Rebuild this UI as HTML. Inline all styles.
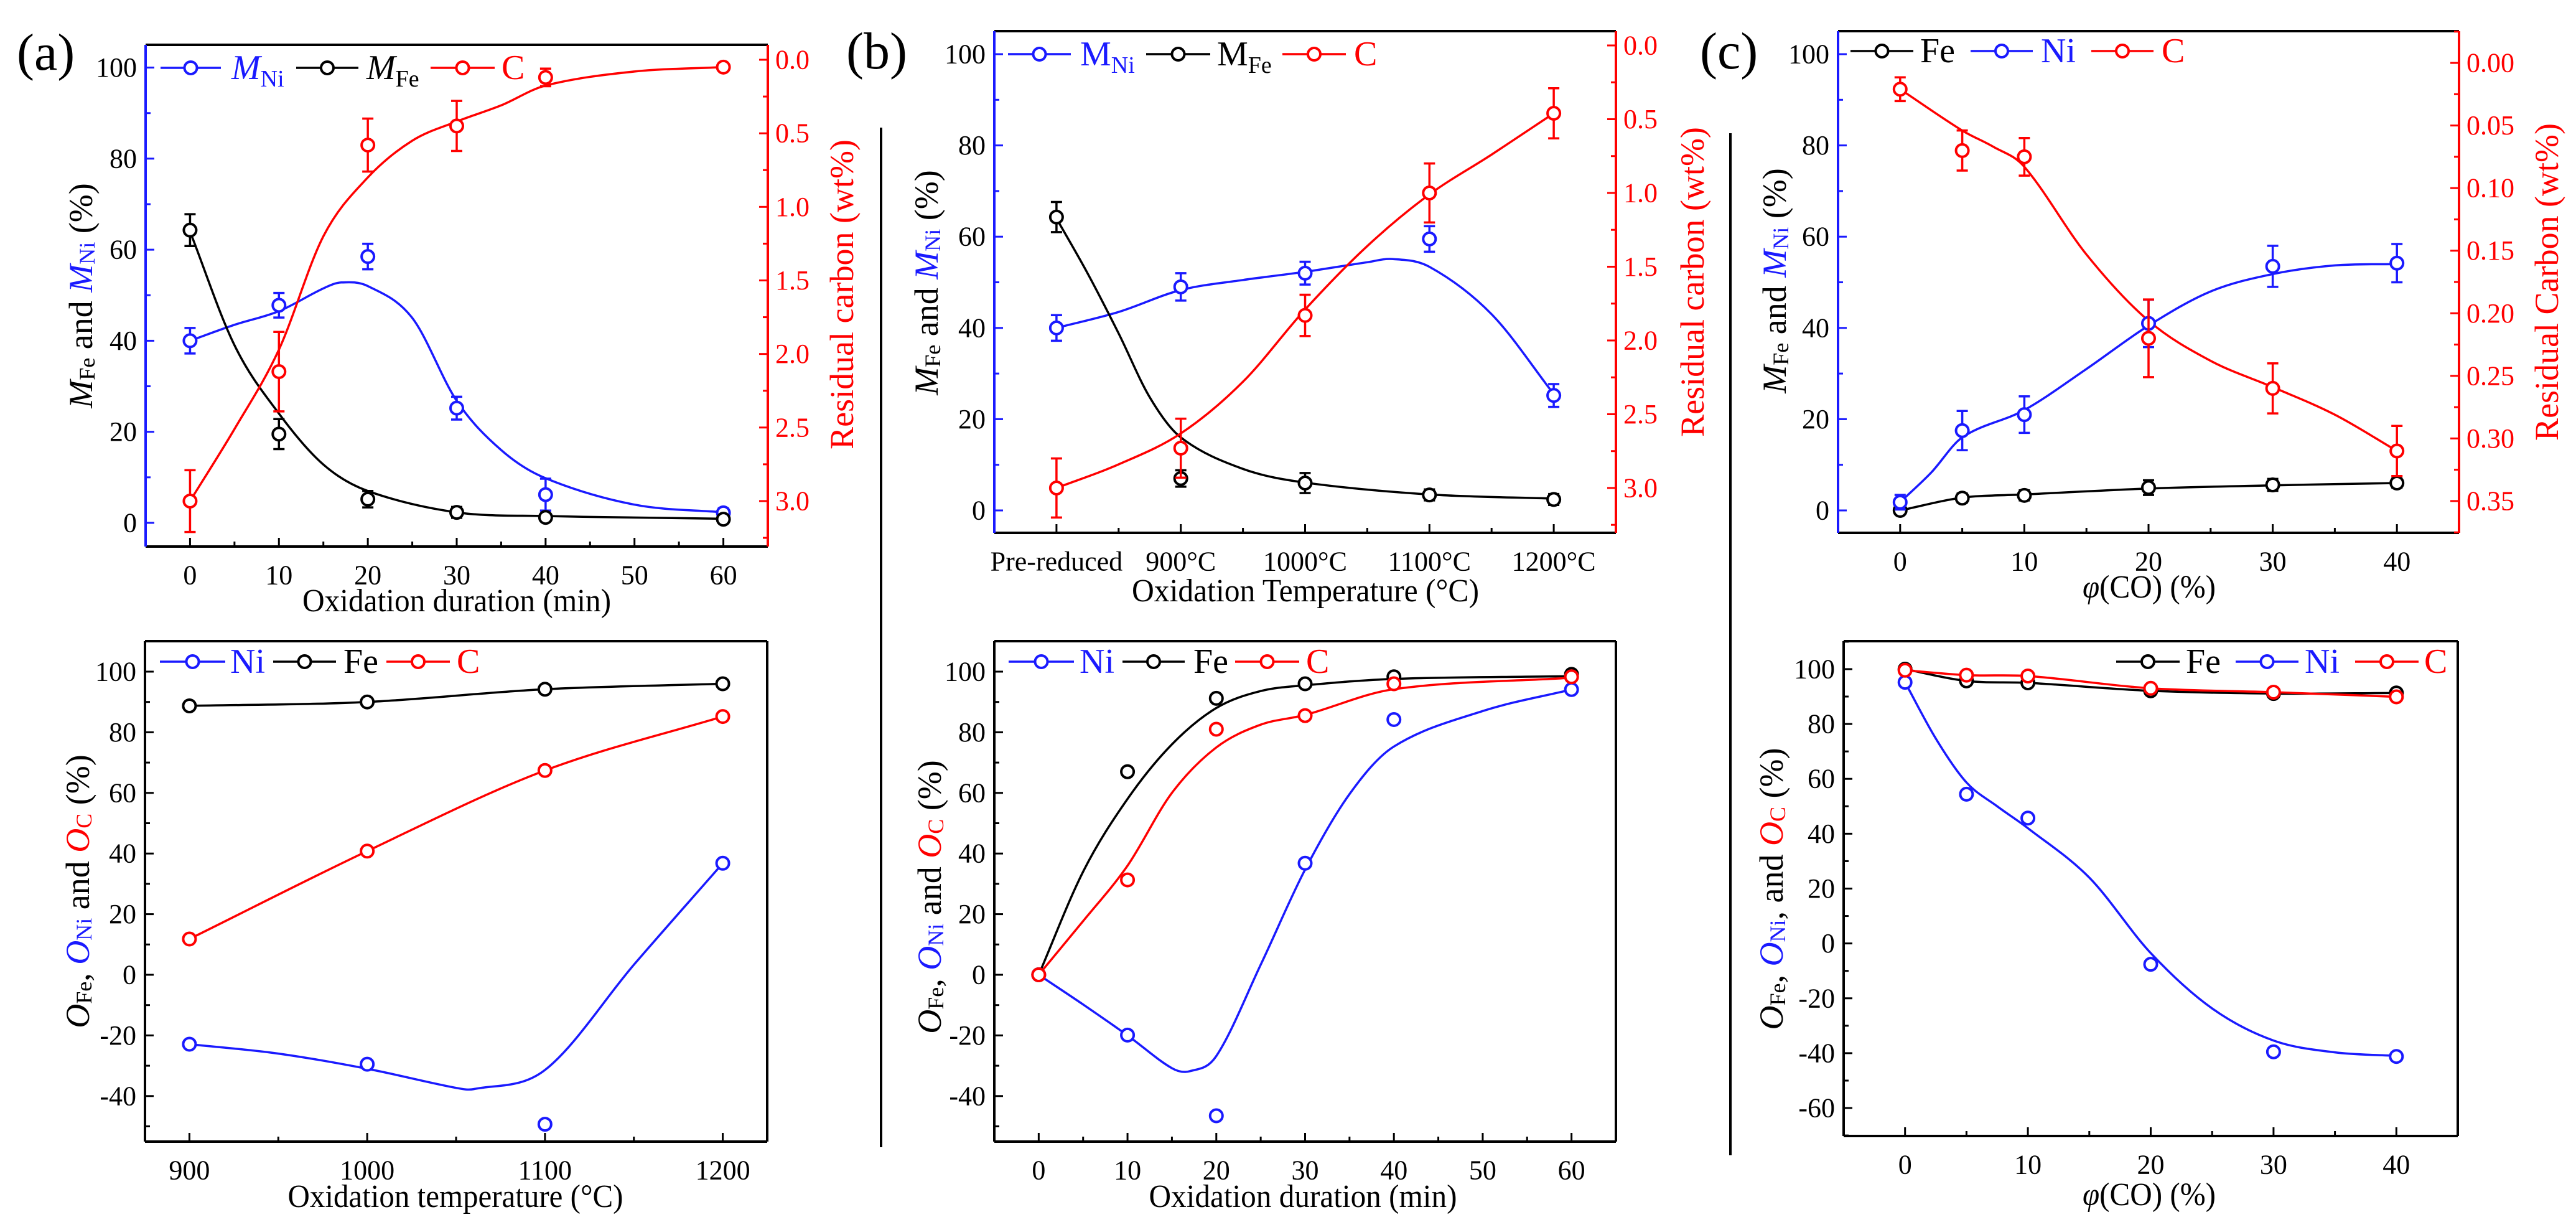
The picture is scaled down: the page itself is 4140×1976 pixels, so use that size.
<!DOCTYPE html>
<html><head><meta charset="utf-8">
<style>
html,body{margin:0;padding:0;background:#fff;}
svg{display:block;font-family:"Liberation Serif","Times New Roman",serif;}
text,tspan{font-family:"Liberation Serif","Times New Roman",serif;}
</style></head>
<body>
<svg id="fig" width="4140" height="1976" viewBox="0 0 4140 1976" xmlns="http://www.w3.org/2000/svg" font-family="Liberation Serif, serif">
<rect width="4140" height="1976" fill="#fff"/>
<text x="27" y="112" font-size="84">(a)</text>
<text x="1360" y="110" font-size="84">(b)</text>
<text x="2732" y="110" font-size="84">(c)</text>
<line x1="1416" y1="205" x2="1416" y2="1843" stroke="#000" stroke-width="4"/>
<line x1="2781" y1="214" x2="2781" y2="1856" stroke="#000" stroke-width="4"/>

<text x="734" y="982" font-size="52" text-anchor="middle" textLength="496" lengthAdjust="spacingAndGlyphs">Oxidation duration (min)</text>
<text x="2098" y="966" font-size="52" text-anchor="middle" textLength="558" lengthAdjust="spacingAndGlyphs">Oxidation Temperature (°C)</text>
<text x="3454" y="960" font-size="52" text-anchor="middle" textLength="214" lengthAdjust="spacingAndGlyphs"><tspan font-style="italic">φ</tspan>(CO) (%)</text>
<text x="732" y="1939" font-size="52" text-anchor="middle" textLength="539" lengthAdjust="spacingAndGlyphs">Oxidation temperature (°C)</text>
<text x="2094" y="1939" font-size="52" text-anchor="middle" textLength="495" lengthAdjust="spacingAndGlyphs">Oxidation duration (min)</text>
<text x="3454" y="1936" font-size="52" text-anchor="middle" textLength="214" lengthAdjust="spacingAndGlyphs"><tspan font-style="italic">φ</tspan>(CO) (%)</text>

<text transform="translate(130,475) rotate(-90)" font-size="54" text-anchor="middle" dominant-baseline="central"><tspan font-style="italic">M</tspan><tspan font-size="36" dy="10">Fe</tspan><tspan dy="-10"> and </tspan><tspan fill="#1a1aff" font-style="italic">M</tspan><tspan fill="#1a1aff" font-size="36" dy="10">Ni</tspan><tspan dy="-10"> (%)</tspan></text>
<text transform="translate(1353,473) rotate(-90)" font-size="54" fill="#ff0000" text-anchor="middle" dominant-baseline="central">Residual carbon (wt%)</text>
<text transform="translate(1489,454) rotate(-90)" font-size="54" text-anchor="middle" dominant-baseline="central"><tspan font-style="italic">M</tspan><tspan font-size="36" dy="10">Fe</tspan><tspan dy="-10"> and </tspan><tspan fill="#1a1aff" font-style="italic">M</tspan><tspan fill="#1a1aff" font-size="36" dy="10">Ni</tspan><tspan dy="-10"> (%)</tspan></text>
<text transform="translate(2720,453) rotate(-90)" font-size="54" fill="#ff0000" text-anchor="middle" dominant-baseline="central">Residual carbon (wt%)</text>
<text transform="translate(2852,451) rotate(-90)" font-size="54" text-anchor="middle" dominant-baseline="central"><tspan font-style="italic">M</tspan><tspan font-size="36" dy="10">Fe</tspan><tspan dy="-10"> and </tspan><tspan fill="#1a1aff" font-style="italic">M</tspan><tspan fill="#1a1aff" font-size="36" dy="10">Ni</tspan><tspan dy="-10"> (%)</tspan></text>
<text transform="translate(4093,453) rotate(-90)" font-size="54" fill="#ff0000" text-anchor="middle" dominant-baseline="central">Residual Carbon (wt%)</text>
<text transform="translate(125,1432) rotate(-90)" font-size="54" text-anchor="middle" dominant-baseline="central"><tspan font-style="italic">O</tspan><tspan font-size="36" dy="10">Fe</tspan><tspan dy="-10">, </tspan><tspan fill="#1a1aff" font-style="italic">O</tspan><tspan fill="#1a1aff" font-size="36" dy="10">Ni</tspan><tspan dy="-10"> and </tspan><tspan fill="#ff0000" font-style="italic">O</tspan><tspan fill="#ff0000" font-size="36" dy="10">C</tspan><tspan dy="-10"> (%)</tspan></text>
<text transform="translate(1494,1441) rotate(-90)" font-size="54" text-anchor="middle" dominant-baseline="central"><tspan font-style="italic">O</tspan><tspan font-size="36" dy="10">Fe</tspan><tspan dy="-10">, </tspan><tspan fill="#1a1aff" font-style="italic">O</tspan><tspan fill="#1a1aff" font-size="36" dy="10">Ni</tspan><tspan dy="-10"> and </tspan><tspan fill="#ff0000" font-style="italic">O</tspan><tspan fill="#ff0000" font-size="36" dy="10">C</tspan><tspan dy="-10"> (%)</tspan></text>
<text transform="translate(2847,1428) rotate(-90)" font-size="54" text-anchor="middle" dominant-baseline="central"><tspan font-style="italic">O</tspan><tspan font-size="36" dy="10">Fe</tspan><tspan dy="-10">, </tspan><tspan fill="#1a1aff" font-style="italic">O</tspan><tspan fill="#1a1aff" font-size="36" dy="10">Ni</tspan><tspan dy="-10">, and </tspan><tspan fill="#ff0000" font-style="italic">O</tspan><tspan fill="#ff0000" font-size="36" dy="10">C</tspan><tspan dy="-10"> (%)</tspan></text>
<g id="plots"></g>
</svg>
<script>
// Panel (a)
const aX = [0,10,20,30,40,60];
const aNi = [40,47.8,58.5,25.2,6.2,2.2];
const aNiErr = [2.8,2.7,2.8,2.5,3.5,1];
const aFe = [64.3,19.5,5.2,2.3,1.2,0.8];
const aFeErr = [3.5,3.3,1.8,1.2,0.6,0.5];
const aC = [3.0,2.12,0.58,0.45,0.12,0.05];
const aCErr = [0.21,0.27,0.18,0.17,0.06,0.02];
const aNiFitX = [0,5,10,15,17,20,25,30,35,40,50,60];
const aNiFit = [40,43.5,46.5,51.5,52.8,52,45,26.8,16,9.8,4,2.3];
const aFeFitX = [0,5,10,15,20,30,40,60];
const aFeFit = [64,39,24,12.8,7,2.3,1.5,0.9];
const aCFitX = [0,5,10,15,20,25,30,35,40,50,60];
const aCFit = [3.0,2.51,1.97,1.2,0.8,0.55,0.42,0.31,0.175,0.08,0.05];
// Panel (b)
const bCats = ["Pre-reduced","900°C","1000°C","1100°C","1200°C"];
const bX = [0,1,2,3,4];
const bNi = [40,49,52,59.5,25.2];
const bNiErr = [2.8,3,2.5,2.8,2.5];
const bFe = [64.3,7,6,3.4,2.4];
const bFeErr = [3.3,1.8,2.2,1.2,1.2];
const bC = [3.0,2.73,1.83,1.0,0.46];
const bCErr = [0.2,0.2,0.14,0.2,0.17];
const bNiFitX = [0,0.5,1,1.5,2,2.5,2.7,3,3.5,4];
const bNiFit = [40,43.5,48.3,50.5,52.3,54.4,55.1,53.4,43,25.5];
const bFeFitX = [0,0.25,0.5,0.75,1,1.5,2,3,4];
const bFeFit = [64,52,38.8,24.8,16,9.1,6.1,3.5,2.6];
const bCFitX = [0,0.5,1,1.5,2,2.5,3,3.5,4];
const bCFit = [3.0,2.84,2.63,2.28,1.79,1.36,1.01,0.74,0.46];
// Panel (c)
const cX = [0,5,10,20,30,40];
const cFe = [0,2.7,3.3,5,5.6,6];
const cFeErr = [0.8,1,1.1,1.6,1.3,1];
const cNi = [1.8,17.5,21,41,53.5,54.2];
const cNiErr = [1.6,4.3,4,5.2,4.5,4.2];
const cC = [0.021,0.070,0.075,0.22,0.26,0.31];
const cCErr = [0.0095,0.016,0.015,0.031,0.02,0.02];
const cNiFitX = [0,2.5,5,10,15,20,25,30,35,40];
const cNiFit = [1.8,8.3,16,22,31,40.5,48,51.8,53.7,54];
const cFeFitX = [0,5,10,20,30,40];
const cFeFit = [0,2.8,3.5,4.8,5.5,6];
const cCFitX = [0,5,7.5,10,15,20,25,30,35,40];
const cCFit = [0.021,0.054,0.067,0.083,0.153,0.206,0.238,0.259,0.281,0.31];
// Panel (d)
const dX = [900,1000,1100,1200];
const dFe = [88.7,90,94.2,96];
const dC = [11.8,40.8,67.4,85.2];
const dNi = [-22.9,-29.5,-49.3,36.8];
const dNiFitX = [900,950,1000,1050,1060,1100,1150,1200];
const dNiFit = [-22.9,-26,-31,-37.3,-37.7,-31.4,3.3,36.8];
// Panel (e)
const eX = [0,10,20,30,40,60];
const eFe = [0,67,91.2,96,98.3,99.1];
const eC = [0,31.3,81,85.5,96,98.3];
const eNi = [0,-19.9,-46.5,36.8,84.2,94.1];
const eFeFitX = [0,5,10,15,20,25,30,40,60];
const eFeFit = [0,34,58,76,88,93.6,95.5,97.6,98.5];
const eCFitX = [0,5,10,15,20,25,30,40,60];
const eCFit = [0,17.7,36,60,75,82.5,85.7,94.2,98];
const eNiFitX = [0,5,10,15,17,20,25,30,35,40,50,60];
const eNiFit = [0,-9.8,-20,-30.8,-31.8,-26.8,3.3,34.7,59.6,75.3,87,94.1];
// Panel (f)
const fX = [0,5,10,20,30,40];
const fFe = [100,95.7,95,92.1,91.1,91.3];
const fC = [99.6,97.8,97.5,93,91.6,89.9];
const fNi = [95.2,54.4,45.7,-7.6,-39.5,-41.2];
const fNiFitX = [0,2.5,5,7.5,10,15,20,25,30,35,40];
const fNiFit = [95.2,74.7,58.7,50,42,24,-3.5,-23.7,-35.4,-39.7,-41];

const yTicks = [0,20,40,60,80,100];
const yTicksO = [-40,-20,0,20,40,60,80,100];
const yTicksF = [-60,-40,-20,0,20,40,60,80,100];
const y2TicksAB = [0,0.5,1,1.5,2,2.5,3];
const y2TicksC = [0,0.05,0.1,0.15,0.2,0.25,0.3,0.35];
const xTicksTime = [0,10,20,30,40,50,60];
const xTicksCO = [0,10,20,30,40];
const xTicksT = [900,1000,1100,1200];

const NS = "http://www.w3.org/2000/svg";
const root = document.getElementById('plots');
const BLUE = "#1a1aff", RED = "#ff0000", BLACK = "#000";
const FONT = '"Liberation Serif", serif';
function mk(tag, parent){ const e = document.createElementNS(NS, tag); parent.appendChild(e); return e; }
function lin(d0,d1,r0,r1){ return v => r0 + (v-d0)/(d1-d0)*(r1-r0); }
// cubic Hermite in x (handles uneven spacing)
function smooth(pts){
  const n = pts.length;
  const m = pts.map((p,i)=>{
    if (n<2) return 0;
    const a = pts[Math.max(0,i-1)], b = pts[Math.min(n-1,i+1)];
    return (b[1]-a[1])/(b[0]-a[0]);
  });
  let d = "M" + pts[0][0].toFixed(1) + "," + pts[0][1].toFixed(1);
  for (let i=0;i<n-1;i++){
    const p1 = pts[i], p2 = pts[i+1], dx = (p2[0]-p1[0])/3;
    const c1 = [p1[0]+dx, p1[1]+m[i]*dx];
    const c2 = [p2[0]-dx, p2[1]-m[i+1]*dx];
    d += "C"+c1[0].toFixed(1)+","+c1[1].toFixed(1)+" "+c2[0].toFixed(1)+","+c2[1].toFixed(1)+" "+p2[0].toFixed(1)+","+p2[1].toFixed(1);
  }
  return d;
}
function panel(id, g){
  const grp = mk('g', root);
  
  
  const sx = lin(g.x0,g.x1,g.L,g.R), sy = lin(g.y0,g.y1,g.B,g.T);
  const sy2 = g.y2 ? lin(g.y2[0],g.y2[1],g.T,g.B) : null;
  const top = mk('line', grp);
  
  
  top.setAttribute('x1',g.L); top.setAttribute('x2',g.R); top.setAttribute('y1',g.T); top.setAttribute('y2',g.T);
  top.setAttribute('stroke',BLACK); top.setAttribute('stroke-width',4);
  const bot = mk('line', grp);
  
  
  bot.setAttribute('x1',g.L); bot.setAttribute('x2',g.R); bot.setAttribute('y1',g.B); bot.setAttribute('y2',g.B);
  bot.setAttribute('stroke',BLACK); bot.setAttribute('stroke-width',4);
  const lft = mk('line', grp);
  
  
  lft.setAttribute('x1',g.L); lft.setAttribute('x2',g.L); lft.setAttribute('y1',g.T); lft.setAttribute('y2',g.B);
  lft.setAttribute('stroke',g.leftColor); lft.setAttribute('stroke-width',4);
  const rgt = mk('line', grp);
  
  
  rgt.setAttribute('x1',g.R); rgt.setAttribute('x2',g.R); rgt.setAttribute('y1',g.T); rgt.setAttribute('y2',g.B);
  rgt.setAttribute('stroke',g.rightColor); rgt.setAttribute('stroke-width',4);
  function tick(x1,y1,x2,y2,c){
    const t = mk('line', grp);
    
    
    t.setAttribute('x1',x1); t.setAttribute('y1',y1); t.setAttribute('x2',x2); t.setAttribute('y2',y2);
    t.setAttribute('stroke',c); t.setAttribute('stroke-width',3);
  }
  function label(x,y,s,anchor,c,name){
    const t = mk('text', grp);
    
    
    t.setAttribute('x',x); t.setAttribute('y',y); t.setAttribute('font-size',44);
    t.setAttribute('font-family',FONT);
    t.setAttribute('text-anchor',anchor); t.setAttribute('fill',c);
    t.setAttribute('dominant-baseline','central');
    t.textContent = s;
  }
  g.xTicks.forEach((v,i) => {
    const x = sx(v);
    tick(x,g.B,x,g.B-14,BLACK);
    label(x,g.B+46,g.xLabels ? g.xLabels[i] : String(v),'middle',BLACK,'x-tick-label');
    if (i < g.xTicks.length-1){ const xm = sx((v+g.xTicks[i+1])/2); tick(xm,g.B,xm,g.B-8,BLACK); }
  });
  g.yTicks.forEach((v,i) => {
    const y = sy(v);
    tick(g.L,y,g.L+14,y,g.leftColor);
    label(g.L-14,y,String(v),'end',BLACK,'y-tick-label');
    const ym = sy(v+ (g.yTicks[1]-g.yTicks[0])/2);
    if (ym > g.T) tick(g.L,ym,g.L+8,ym,g.leftColor);
  });
  const ymLow = sy(g.yTicks[0]-(g.yTicks[1]-g.yTicks[0])/2);
  if (ymLow < g.B) tick(g.L,ymLow,g.L+8,ymLow,g.leftColor);
  if (g.y2){
    g.y2Ticks.forEach((v,i) => {
      const y = sy2(v);
      tick(g.R,y,g.R-14,y,RED);
      label(g.R+12,y,v.toFixed(g.y2Dec),'start',RED,'y2-tick-label');
      const step = g.y2Ticks[1]-g.y2Ticks[0];
      const ym = sy2(v+step/2);
      if (ym < g.B) tick(g.R,ym,g.R-8,ym,RED);
      if (i===0){ const yu = sy2(v-step/2); if (yu > g.T) tick(g.R,yu,g.R-8,yu,RED); }
    });
  }
  return {grp, sx, sy, sy2};
}
function curve(p, xs, ys, useY2, color, name){
  const sy = useY2 ? p.sy2 : p.sy;
  const pts = xs.map((x,i)=>[p.sx(x), sy(ys[i])]);
  const path = mk('path', p.grp);
  
  
  path.setAttribute('d', smooth(pts));
  path.setAttribute('fill','none'); path.setAttribute('stroke',color); path.setAttribute('stroke-width',3.5);
}
function points(p, xs, ys, errs, useY2, color, name){
  const sy = useY2 ? p.sy2 : p.sy;
  xs.forEach((x,i)=>{
    const cx = p.sx(x), cy = sy(ys[i]);
    if (errs){
      const y1 = sy(ys[i]-errs[i]), y2 = sy(ys[i]+errs[i]);
      const eb = mk('path', p.grp);
      
      
      eb.setAttribute('d', `M${cx},${y1}V${y2}M${cx-9},${y1}H${cx+9}M${cx-9},${y2}H${cx+9}`);
      eb.setAttribute('stroke',color); eb.setAttribute('stroke-width',3.5); eb.setAttribute('fill','none');
    }
    const c = mk('circle', p.grp);
    
    
    c.setAttribute('cx',cx); c.setAttribute('cy',cy); c.setAttribute('r',10);
    c.setAttribute('fill','#fff'); c.setAttribute('stroke',color); c.setAttribute('stroke-width',4);
  });
}
function legend(p, y, entries){
  entries.forEach(e=>{
    const ln = mk('line', p.grp);
    
    
    ln.setAttribute('x1',e.x1); ln.setAttribute('x2',e.x2); ln.setAttribute('y1',y); ln.setAttribute('y2',y);
    ln.setAttribute('stroke',e.c); ln.setAttribute('stroke-width',3.5);
    const c = mk('circle', p.grp);
    
    
    c.setAttribute('cx',(e.x1+e.x2)/2); c.setAttribute('cy',y); c.setAttribute('r',10);
    c.setAttribute('fill','#fff'); c.setAttribute('stroke',e.c); c.setAttribute('stroke-width',4);
    const t = mk('text', p.grp);
    
    
    t.setAttribute('font-family',FONT);
    t.setAttribute('x',e.tx); t.setAttribute('y',y+18); t.setAttribute('font-size',56); t.setAttribute('fill',e.c);
    if (e.sub){
      const m = mk('tspan', t); m.textContent = e.t; if (e.it) m.setAttribute('font-style','italic');
      const s = mk('tspan', t); s.textContent = e.sub; s.setAttribute('font-size',38); s.setAttribute('dy',12);
    } else t.textContent = e.t;
  });
}

const pa = panel('a', {L:234,R:1234,T:72,B:878,x0:-5,x1:65,y0:-5.2,y1:105,y2:[-0.1016,3.309],
  xTicks:xTicksTime, yTicks:yTicks, y2Ticks:y2TicksAB, y2Dec:1, leftColor:BLUE, rightColor:RED});
curve(pa,aNiFitX,aNiFit,false,BLUE,'ni-fit-curve');
curve(pa,aFeFitX,aFeFit,false,BLACK,'fe-fit-curve');
curve(pa,aCFitX,aCFit,true,RED,'c-fit-curve');
points(pa,aX,aNi,aNiErr,false,BLUE,'ni');
points(pa,aX,aFe,aFeErr,false,BLACK,'fe');
points(pa,aX,aC,aCErr,true,RED,'c');
legend(pa,109,[{x1:258,x2:355,c:BLUE,tx:372,t:'M',sub:'Ni',it:true},{x1:476,x2:576,c:BLACK,tx:589,t:'M',sub:'Fe',it:true},{x1:692,x2:795,c:RED,tx:806,t:'C'}]);

const pb = panel('b', {L:1598,R:2597,T:50,B:856,x0:-0.5,x1:4.5,y0:-4.91,y1:105.05,y2:[-0.097,3.304],
  xTicks:bX, xLabels:bCats, yTicks:yTicks, y2Ticks:y2TicksAB, y2Dec:1, leftColor:BLUE, rightColor:RED});
curve(pb,bNiFitX,bNiFit,false,BLUE,'ni-fit-curve');
curve(pb,bFeFitX,bFeFit,false,BLACK,'fe-fit-curve');
curve(pb,bCFitX,bCFit,true,RED,'c-fit-curve');
points(pb,bX,bNi,bNiErr,false,BLUE,'ni');
points(pb,bX,bFe,bFeErr,false,BLACK,'fe');
points(pb,bX,bC,bCErr,true,RED,'c');
legend(pb,87,[{x1:1620,x2:1721,c:BLUE,tx:1736,t:'M',sub:'Ni'},{x1:1842,x2:1945,c:BLACK,tx:1956,t:'M',sub:'Fe'},{x1:2061,x2:2163,c:RED,tx:2176,t:'C'}]);

const pc = panel('c', {L:2954,R:3952,T:50,B:856,x0:-5,x1:45,y0:-4.91,y1:105.05,y2:[-0.0254,0.3754],
  xTicks:xTicksCO, yTicks:yTicks, y2Ticks:y2TicksC, y2Dec:2, leftColor:BLUE, rightColor:RED});
curve(pc,cNiFitX,cNiFit,false,BLUE,'ni-fit-curve');
curve(pc,cFeFitX,cFeFit,false,BLACK,'fe-fit-curve');
curve(pc,cCFitX,cCFit,true,RED,'c-fit-curve');
points(pc,cX,cFe,cFeErr,false,BLACK,'fe');
points(pc,cX,cNi,cNiErr,false,BLUE,'ni');
points(pc,cX,cC,cCErr,true,RED,'c');
legend(pc,82,[{x1:2974,x2:3075,c:BLACK,tx:3086,t:'Fe'},{x1:3167,x2:3267,c:BLUE,tx:3280,t:'Ni'},{x1:3361,x2:3461,c:RED,tx:3474,t:'C'}]);

const pd = panel('d', {L:233,R:1233,T:1030,B:1834,x0:875,x1:1225,y0:-55.03,y1:110.06,
  xTicks:xTicksT, yTicks:yTicksO, leftColor:BLACK, rightColor:BLACK});
curve(pd,dX,dFe,false,BLACK,'fe-curve');
curve(pd,dX,dC,false,RED,'c-curve');
curve(pd,dNiFitX,dNiFit,false,BLUE,'ni-fit-curve');
points(pd,dX,dFe,null,false,BLACK,'fe');
points(pd,dX,dC,null,false,RED,'c');
points(pd,dX,dNi,null,false,BLUE,'ni');
legend(pd,1063,[{x1:257,x2:362,c:BLUE,tx:370,t:'Ni'},{x1:439,x2:540,c:BLACK,tx:552,t:'Fe'},{x1:621,x2:723,c:RED,tx:734,t:'C'}]);

const pe = panel('e', {L:1598,R:2597,T:1030,B:1834,x0:-5,x1:65,y0:-55.03,y1:110.06,
  xTicks:xTicksTime, yTicks:yTicksO, leftColor:BLACK, rightColor:BLACK});
curve(pe,eFeFitX,eFeFit,false,BLACK,'fe-fit-curve');
curve(pe,eCFitX,eCFit,false,RED,'c-fit-curve');
curve(pe,eNiFitX,eNiFit,false,BLUE,'ni-fit-curve');
points(pe,eX,eFe,null,false,BLACK,'fe');
points(pe,eX,eNi,null,false,BLUE,'ni');
points(pe,eX,eC,null,false,RED,'c');
legend(pe,1063,[{x1:1621,x2:1726,c:BLUE,tx:1735,t:'Ni'},{x1:1804,x2:1904,c:BLACK,tx:1918,t:'Fe'},{x1:1985,x2:2088,c:RED,tx:2099,t:'C'}]);

const pf = panel('f', {L:2963,R:3950,T:1030,B:1825,x0:-5,x1:45,y0:-70.2,y1:110.2,
  xTicks:xTicksCO, yTicks:yTicksF, leftColor:BLACK, rightColor:BLACK});
curve(pf,fX,fFe,false,BLACK,'fe-curve');
curve(pf,fX,fC,false,RED,'c-curve');
curve(pf,fNiFitX,fNiFit,false,BLUE,'ni-fit-curve');
points(pf,fX,fFe,null,false,BLACK,'fe');
points(pf,fX,fNi,null,false,BLUE,'ni');
points(pf,fX,fC,null,false,RED,'c');
legend(pf,1063,[{x1:3401,x2:3503,c:BLACK,tx:3513,t:'Fe'},{x1:3593,x2:3694,c:BLUE,tx:3704,t:'Ni'},{x1:3785,x2:3887,c:RED,tx:3896,t:'C'}]);
</script>
</body></html>
